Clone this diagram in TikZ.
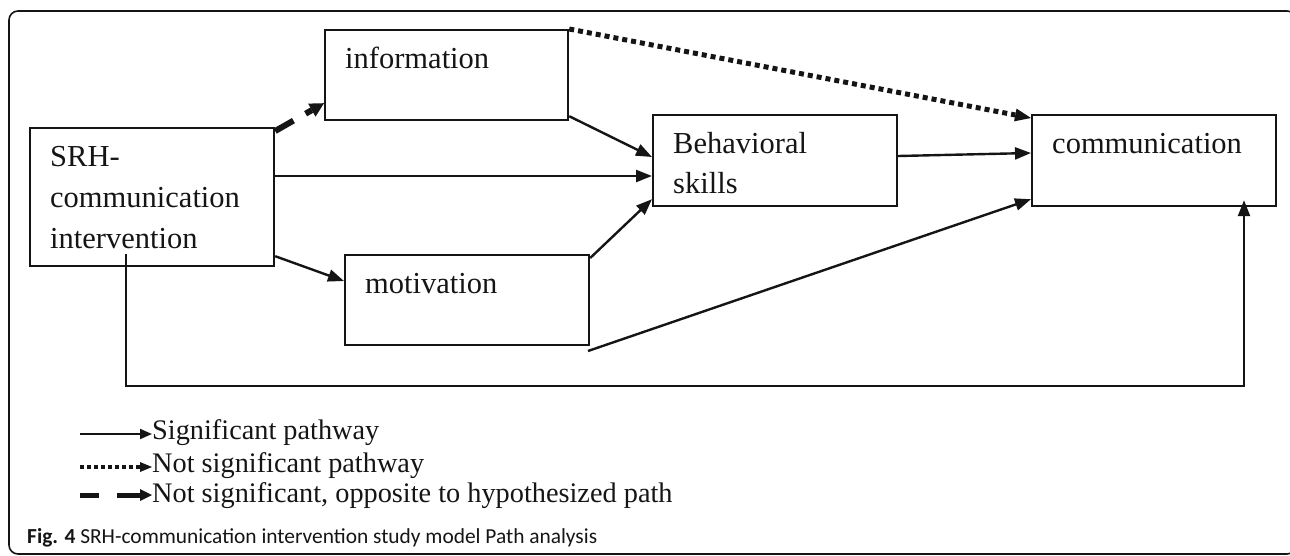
\documentclass[tikz,border=0pt]{standalone}
\usepackage{fontspec}
\setmainfont{Liberation Serif}
\newfontfamily\capfont{Carlito}
\usetikzlibrary{arrows.meta,calc}
\definecolor{ink}{HTML}{151515}
\begin{document}
\begin{tikzpicture}[x=1pt,y=-1pt,
  box/.style={draw=ink,line width=2.2pt,minimum width=244pt,minimum height=90pt,anchor=north west,inner sep=0pt},
  lbl/.style={anchor=base west,inner sep=0pt,text=ink,font=\fontsize{30.5}{36}\selectfont},
  leg/.style={anchor=base west,inner sep=0pt,text=ink,font=\fontsize{28.3}{34}\selectfont},
  conn/.style={draw=ink,line width=2.4pt,-{Triangle[length=16pt,width=12pt]}},
  dotconn/.style={draw=ink,line width=5pt,dash pattern=on 5pt off 4pt,-{Triangle[length=16pt,width=13pt,line width=0pt]}},
  dashconn/.style={draw=ink,line width=6pt,dash pattern=on 21pt off 14pt,-{Triangle[length=14pt,width=15pt,line width=0pt]}},
  legsolid/.style={draw=ink,line width=2pt,-{Triangle[length=12pt,width=10pt]}},
  legdot/.style={draw=ink,line width=4.5pt,dash pattern=on 4pt off 3pt,-{Triangle[length=12pt,width=10pt,line width=0pt]}},
  legdash/.style={draw=ink,line width=5pt,-{Triangle[length=12pt,width=12pt,line width=0pt]}}
]
\useasboundingbox (0,0) rectangle (1290,555);
\clip (0,0) rectangle (1290,555);
\draw[line width=1.6pt,rounded corners=9pt,draw=ink] (9,11) rectangle (1296,554);

% boxes
\node[box,minimum height=138pt] (srh) at (29,127) {};
\node[box,minimum width=243pt] (info) at (324,29) {};
\node[box,minimum height=91pt] (beh) at (652,114) {};
\node[box,minimum height=91pt] (comm) at (1031,114) {};
\node[box] (mot) at (344,254) {};

% texts
\node[lbl] (srhA) at (50,166) {SRH-};
\node[lbl] (srhB) at (50,207) {communication};
\node[lbl] (srhC) at (50,248) {intervention};
\node[lbl] (infoT) at (345,68) {information};
\node[lbl] (behA) at (673,153) {Behavioral};
\node[lbl] (behB) at (673,193) {skills};
\node[lbl] (commT) at (1052,153) {communication};
\node[lbl] (motT) at (365,293) {motivation};

% connectors
\draw[dashconn] ($(srh.north east)+(0,4)$) -- ($(info.south west)+(0,-18)$);
\draw[conn] ($(info.south east)+(0,-5)$) -- ($(beh.north west)+(0,43)$);
\draw[conn] ($(srh.north east)+(0,49)$) coordinate (h0) -- (h0 -| beh.west);
\draw[conn] ($(srh.south east)+(0,-11)$) -- ($(mot.north west)+(0,27)$);
\draw[conn] ($(mot.north east)+(0,4)$) -- ($(beh.south west)+(0,-8)$);
\draw[conn] ($(beh.north east)+(0,42)$) -- ($(comm.north west)+(0,39)$);
\draw[dotconn] (info.north east) -- ($(comm.north west)+(0,4)$);
\coordinate (m0) at (588,351);
\draw[conn] (m0) -- ($(comm.south west)+(0,-8)$);
\coordinate (s0) at (126,254);
\coordinate (c1) at (1244,386);
\draw[conn,shorten >=-7pt] (s0) |- (c1) -- (c1 |- comm.south);

% legend
\node[leg] (l1) at (152,439) {Significant pathway};
\node[leg] (l2) at (152,472) {Not significant pathway};
\node[leg] (l3) at (152,502) {Not significant, opposite to hypothesized path};
\coordinate (l1s) at (80,434);
\coordinate (l2s) at (80,467);
\coordinate (l3s) at (80,495);
\coordinate (l3m) at (99,495);
\coordinate (l3n) at (117,495);
\draw[legsolid] (l1s) -- (l1s -| l1.west);
\draw[legdot] (l2s) -- (l2s -| l2.west);
\draw[draw=ink,line width=5pt] (l3s) -- (l3m);
\draw[legdash] (l3n) -- (l3n -| l3.west);

% caption
\node[anchor=base west,inner sep=0pt,text=ink,font=\capfont\fontsize{21.4}{24}\selectfont] (cap) at (27,543) {\textbf{Fig. 4} SRH-communication intervention study model Path analysis};
\end{tikzpicture}
\end{document}
